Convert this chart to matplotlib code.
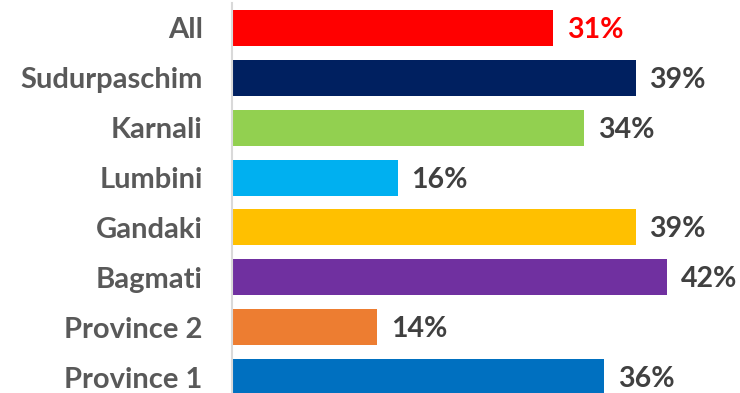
import matplotlib
matplotlib.use("Agg")
from matplotlib import pyplot as plt

# regions listed bottom to top, values in percent
regions = ["Province 1", "Province 2", "Bagmati", "Gandaki", "Lumbini", "Karnali", "Sudurpaschim", "All"]
values = [36, 14, 42, 39, 16, 34, 39, 31]
colors = ["#0070C0", "#ED7D31", "#7030A0", "#FFC000", "#00B0F0", "#92D050", "#002060", "#FF0000"]

plt.rcParams["font.family"] = ["Lato", "DejaVu Sans"]

fig = plt.figure(figsize=(7.4, 3.93), dpi=100)
ax = fig.add_axes([232 / 740, -9 / 393, 508 / 740, 399 / 393])

ypos = range(len(regions))
ax.barh(ypos, values, height=0.72, color=colors)

# value labels just past the end of each bar
for y, v in zip(ypos, values):
    c = "#FF0000" if regions[y] == "All" else "#404040"
    ax.annotate(f"{v}%", (v, y), xytext=(14, -2), textcoords="offset pixels",
                va="center", ha="left", fontsize=20.5, fontweight="bold", color=c)

ax.set_yticks(list(ypos))
ax.set_yticklabels(regions, fontsize=21, fontweight="bold", color="#595959")
ax.tick_params(axis="y", length=0, pad=21)
ax.set_xticks([])
ax.set_xlim(0, 49.1)
ax.set_ylim(-0.5, 7.5)

for s in ["top", "right", "bottom"]:
    ax.spines[s].set_visible(False)
ax.spines["left"].set_color("#D9D9D9")
ax.spines["left"].set_linewidth(1.5)

fig.savefig("out.png", dpi=100)
